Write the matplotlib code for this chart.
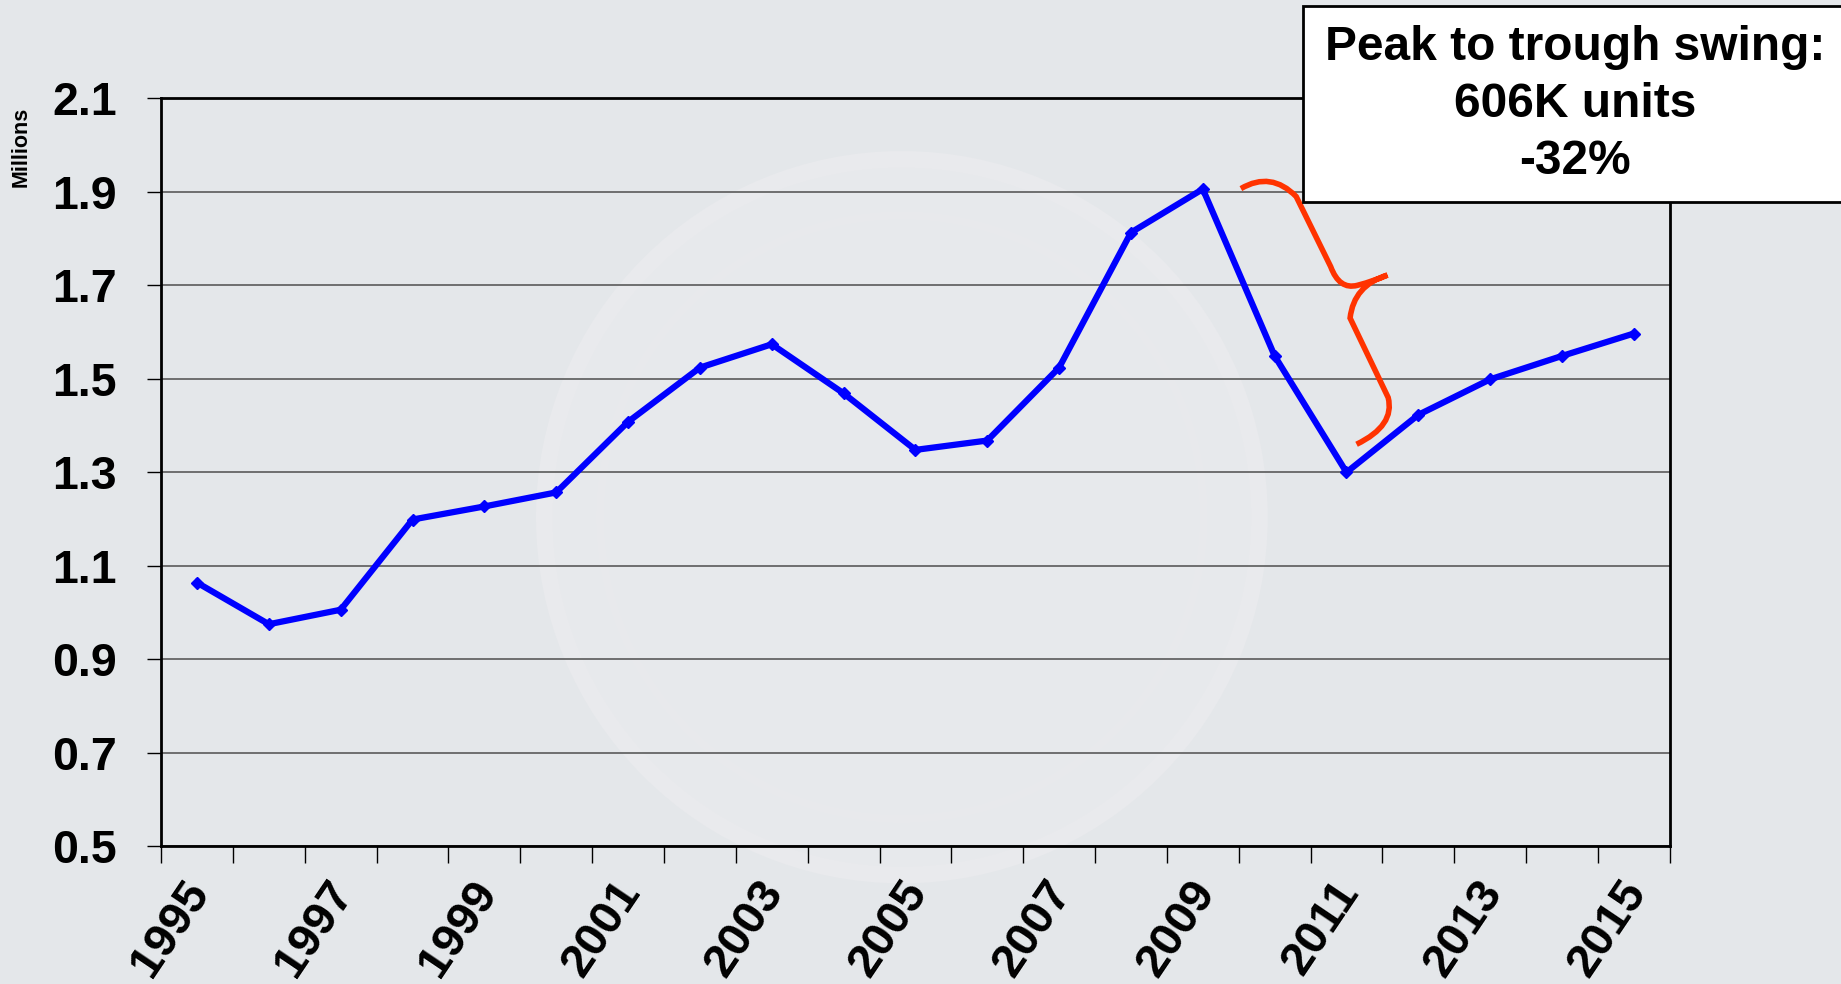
import matplotlib.pyplot as plt
from matplotlib.path import Path
from matplotlib.patches import PathPatch, Rectangle, Ellipse
from matplotlib.transforms import ScaledTranslation

plt.rcParams['font.family'] = ['Liberation Sans', 'DejaVu Sans']
plt.rcParams['font.weight'] = 'bold'

# Data (millions of units)
years = list(range(1995, 2016))
units = [1.064, 0.975, 1.006, 1.199, 1.227, 1.257, 1.408, 1.524, 1.574, 1.469,
         1.348, 1.368, 1.524, 1.813, 1.906, 1.549, 1.300, 1.423, 1.499, 1.549,
         1.597]
y_ticks = [0.5, 0.7, 0.9, 1.1, 1.3, 1.5, 1.7, 1.9, 2.1]
box_lines = ["Peak to trough swing:", "606K units", "-32%"]

BG = '#E4E7EA'


def main():
    fig = plt.figure(figsize=(18.41, 9.84), dpi=100, facecolor=BG)
    ax = fig.add_axes([0.0875, 0.140, 0.8195, 0.760])
    ax.set_facecolor(BG)

    # faint watermark ring behind everything in the plot area
    ax.add_patch(Ellipse((0.491, 0.44), 0.474, 0.957, transform=ax.transAxes,
                         fc='#E7E9EC', ec='#E9EAED', lw=12, zorder=0.2,
                         clip_on=False))
    ax.add_patch(Ellipse((0.491, 0.44), 0.40, 0.807, transform=ax.transAxes,
                         fill=False, ec='#E8E9EC', lw=6, zorder=0.3))

    x = list(range(len(years)))
    ax.plot(x, units, color='#0000FF', lw=4.5, marker='D', ms=6,
            mec='#0000FF', zorder=3)

    ax.set_xlim(-0.5, len(years) - 0.5)
    ax.set_ylim(0.5, 2.1)
    ax.set_yticks(y_ticks)
    ax.set_yticklabels([f"{v:.1f}" for v in y_ticks], fontsize=33.5,
                       fontweight='bold')
    ax.yaxis.grid(True, color='#5A5A5A', lw=1.2, zorder=1)

    # tick marks sit on category boundaries, labels every other year
    ax.set_xticks([i - 0.5 for i in range(len(years) + 1)])
    ax.set_xticklabels([])
    ax.tick_params(axis='x', length=12, width=1, color='black')
    ax.tick_params(axis='y', length=10, width=1, pad=22)
    lab_tr = ax.get_xaxis_transform() + ScaledTranslation(
        0.03, -0.39, fig.dpi_scale_trans)
    for i in x[::2]:
        ax.text(i, 0, str(years[i]), transform=lab_tr, fontsize=34,
                fontweight='bold', rotation=56, ha='right', va='center',
                rotation_mode='anchor', clip_on=False)

    for s in ax.spines.values():
        s.set_color('black')
        s.set_linewidth(2)
        s.set_zorder(2.5)

    fig.text(0.0115, 0.851, "Millions", rotation=90, fontsize=15.5,
             fontweight='bold', ha='center', va='center')

    # red brace between peak and trough
    verts = [(14.53, 1.907), (14.95, 1.945), (15.30, 1.89),
             (15.78, 1.74),
             (15.90, 1.69), (16.15, 1.70),
             (16.40, 1.71), (16.57, 1.722),
             (16.10, 1.70), (16.05, 1.63),
             (16.58, 1.46),
             (16.68, 1.40), (16.14, 1.36)]
    codes = [Path.MOVETO, Path.CURVE3, Path.CURVE3,
             Path.LINETO,
             Path.CURVE3, Path.CURVE3,
             Path.CURVE3, Path.CURVE3,
             Path.CURVE3, Path.CURVE3,
             Path.LINETO,
             Path.CURVE3, Path.CURVE3]
    ax.add_patch(PathPatch(Path(verts, codes), fill=False, ec='#FF3300',
                           lw=4, capstyle='butt', zorder=4))

    # annotation box
    box = Rectangle((0.708, 0.795), 0.31, 0.199, transform=fig.transFigure,
                    fc='white', ec='black', lw=2, zorder=5)
    fig.patches.append(box)
    for i, line in enumerate(box_lines):
        fig.text(0.8555, 0.952 - i * 0.058, line, fontsize=34.5,
                 fontweight='bold', ha='center', va='center', zorder=6)

    fig.savefig("out.png", dpi=100, facecolor=BG)
    plt.close(fig)


if __name__ == "__main__":
    main()
